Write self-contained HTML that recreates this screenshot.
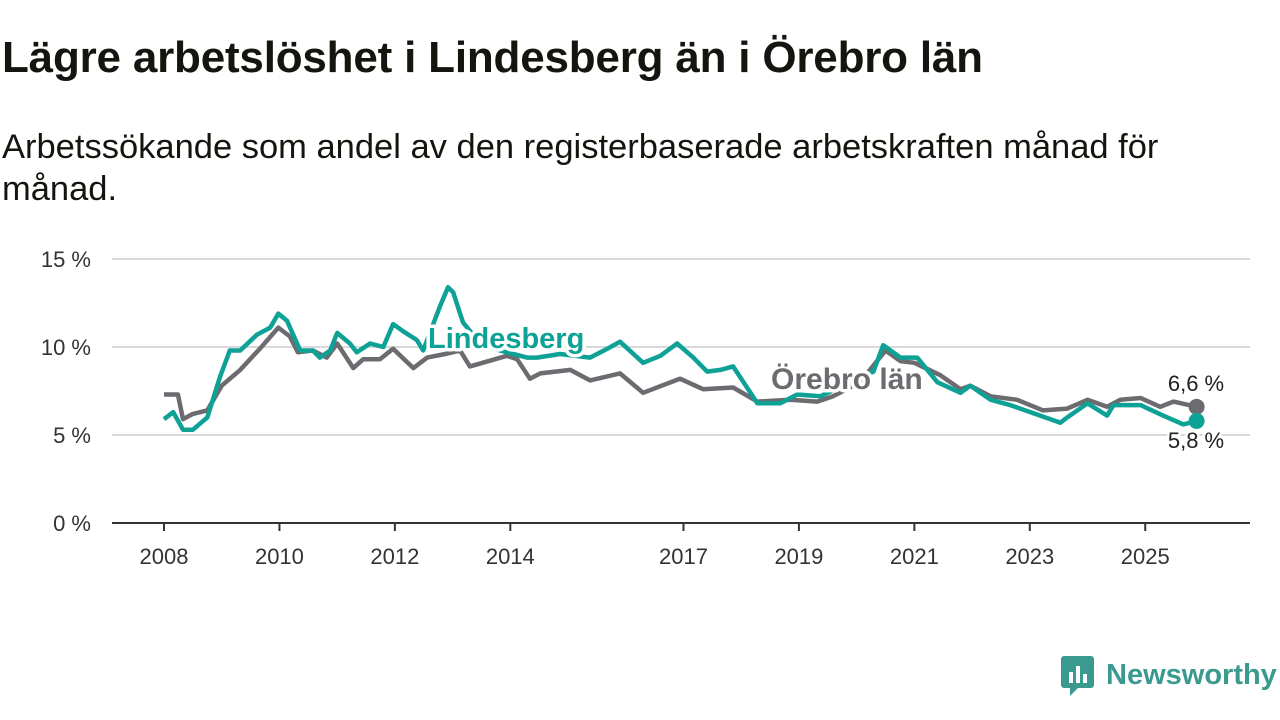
<!DOCTYPE html>
<html><head><meta charset="utf-8">
<style>
body{margin:0;width:1280px;height:720px;background:#fff;font-family:"Liberation Sans",sans-serif;overflow:hidden;position:relative}
#title{position:absolute;left:2px;top:33px;font-size:44px;font-weight:bold;color:#15140f;margin:0;letter-spacing:-0.2px}
#sub{position:absolute;left:2px;top:126px;font-size:34.5px;color:#15140f;line-height:42px;width:1200px}
svg{position:absolute;left:0;top:0}
</style></head><body>
<h1 id="title">Lägre arbetslöshet i Lindesberg än i Örebro län</h1>
<div id="sub">Arbetssökande som andel av den registerbaserade arbetskraften månad för månad.</div>
<svg id="chart" width="1280" height="720"></svg>
<script>
const yTicks=[0,5,10,15];
const xTicks=[2008,2010,2012,2014,2017,2019,2021,2023,2025];
const orebroYears=[2008.0,2008.24,2008.33,2008.5,2008.75,2009.0,2009.32,2009.49,2009.66,2009.98,2010.18,2010.32,2010.58,2010.82,2011.0,2011.28,2011.45,2011.74,2011.97,2012.32,2012.56,2012.87,2013.13,2013.3,2013.94,2014.12,2014.34,2014.52,2015.04,2015.38,2015.9,2016.3,2016.94,2017.34,2017.86,2018.28,2018.85,2019.32,2019.59,2020.06,2020.5,2020.76,2021.0,2021.45,2021.8,2021.97,2022.32,2022.78,2023.23,2023.65,2024.0,2024.34,2024.57,2024.92,2025.26,2025.49,2025.89];
const orebroValues=[7.3,7.3,5.9,6.2,6.4,7.8,8.7,9.3,9.9,11.1,10.6,9.7,9.8,9.4,10.2,8.8,9.3,9.3,9.9,8.8,9.4,9.6,9.8,8.9,9.5,9.3,8.2,8.5,8.7,8.1,8.5,7.4,8.2,7.6,7.7,6.9,7.0,6.9,7.2,8.0,9.8,9.2,9.1,8.4,7.6,7.8,7.2,7.0,6.4,6.5,7.0,6.6,7.0,7.1,6.6,6.9,6.6];
const lindYears=[2008.0,2008.16,2008.33,2008.5,2008.75,2008.97,2009.14,2009.32,2009.61,2009.84,2009.98,2010.13,2010.36,2010.58,2010.7,2010.88,2011.0,2011.22,2011.34,2011.57,2011.8,2011.97,2012.14,2012.38,2012.49,2012.78,2012.92,2013.01,2013.18,2013.48,2013.82,2014.29,2014.46,2014.86,2015.38,2015.68,2015.9,2016.3,2016.6,2016.89,2017.17,2017.41,2017.64,2017.86,2018.28,2018.68,2018.97,2019.37,2019.89,2020.29,2020.46,2020.76,2021.05,2021.4,2021.8,2021.97,2022.32,2022.66,2023.18,2023.53,2023.65,2024.0,2024.34,2024.45,2024.92,2025.31,2025.66,2025.89];
const lindValues=[5.9,6.3,5.3,5.3,6.0,8.3,9.8,9.8,10.7,11.1,11.9,11.5,9.8,9.8,9.4,9.8,10.8,10.2,9.7,10.2,10.0,11.3,10.9,10.4,9.8,12.3,13.4,13.1,11.4,10.2,9.8,9.4,9.4,9.6,9.4,9.9,10.3,9.1,9.5,10.2,9.4,8.6,8.7,8.9,6.8,6.8,7.3,7.2,8.0,8.6,10.1,9.4,9.4,8.0,7.4,7.8,7.0,6.7,6.1,5.7,6.0,6.8,6.1,6.7,6.7,6.1,5.6,5.8];
const NS='http://www.w3.org/2000/svg';
const svg=document.getElementById('chart');
const X=y=>164+(y-2008)*57.72;
const Y=v=>523-v*17.6;
function mk(t,a,p){const e=document.createElementNS(NS,t);for(const k in a)e.setAttribute(k,a[k]);(p||svg).appendChild(e);return e;}
yTicks.forEach(v=>{
  if(v>0){const g=mk('line',{x1:112,x2:1250,y1:Y(v),y2:Y(v),stroke:'#d9d9d9','stroke-width':2});
  
  }
  const t=mk('text',{x:91,y:Y(v)+8,'text-anchor':'end','font-size':22,fill:'#333'});
  t.textContent=v+' %';
  
  
});
const ax=mk('line',{x1:112,x2:1250,y1:523,y2:523,stroke:'#333','stroke-width':2});


xTicks.forEach(yr=>{
  mk('line',{x1:X(yr),x2:X(yr),y1:523,y2:531,stroke:'#333','stroke-width':2});
  const t=mk('text',{x:X(yr),y:564,'text-anchor':'middle','font-size':22,fill:'#333'});
  t.textContent=yr;
  
  
});
function line(ys,vs,c,name){
  const d=ys.map((y,i)=>(i?'L':'M')+X(y).toFixed(1)+','+Y(vs[i]).toFixed(1)).join('');
  const p=mk('path',{d:d,fill:'none',stroke:c,'stroke-width':4.5,'stroke-linejoin':'round'});
  
  
}
line(orebroYears,orebroValues,'#6d6b70','orebro-line');
line(lindYears,lindValues,'#0ea196','lindesberg-line');
function label(x,y,txt,c,name,fs){
  const t=mk('text',{x:x,y:y,'font-size':fs,'font-weight':'bold',fill:c,stroke:'#fff','stroke-width':7,'paint-order':'stroke','stroke-linejoin':'round'});
  t.textContent=txt;
  
  
}
label(428,348,'Lindesberg','#0ea196','lindesberg-label',29);
label(771,389,'Örebro län','#6d6b70','orebro-label',30);
const lo=orebroValues.length-1, ll=lindValues.length-1;
const d1=mk('circle',{cx:X(orebroYears[lo]),cy:Y(orebroValues[lo]),r:8,fill:'#6d6b70'});


const d2=mk('circle',{cx:X(lindYears[ll]),cy:Y(lindValues[ll]),r:8,fill:'#0ea196'});


function vlab(x,y,txt,name){
  const t=mk('text',{x:x,y:y,'text-anchor':'middle','font-size':22,fill:'#222',stroke:'#fff','stroke-width':5,'paint-order':'stroke'});
  t.textContent=txt;
  
  
}
vlab(1196,391,orebroValues[lo].toString().replace('.',',')+' %','orebro-end-value');
vlab(1196,448,lindValues[ll].toString().replace('.',',')+' %','lindesberg-end-value');
</script>
<div style="position:absolute;left:1060px;top:654px;display:flex;align-items:center">
  <svg width="36" height="42" style="position:static"><rect x="1" y="2" width="33" height="32" rx="3" fill="#3a9a8f"/><path d="M10 34 L10 42 L18 34Z" fill="#3a9a8f"/><rect x="9" y="18" width="4" height="11" fill="#fff"/><rect x="16" y="12" width="4" height="17" fill="#fff"/><rect x="23" y="20" width="4" height="9" fill="#fff"/></svg>
  <span style="font-size:29px;color:#3a9a8f;margin-left:10px;font-weight:bold">Newsworthy</span>
</div>
</body></html>
